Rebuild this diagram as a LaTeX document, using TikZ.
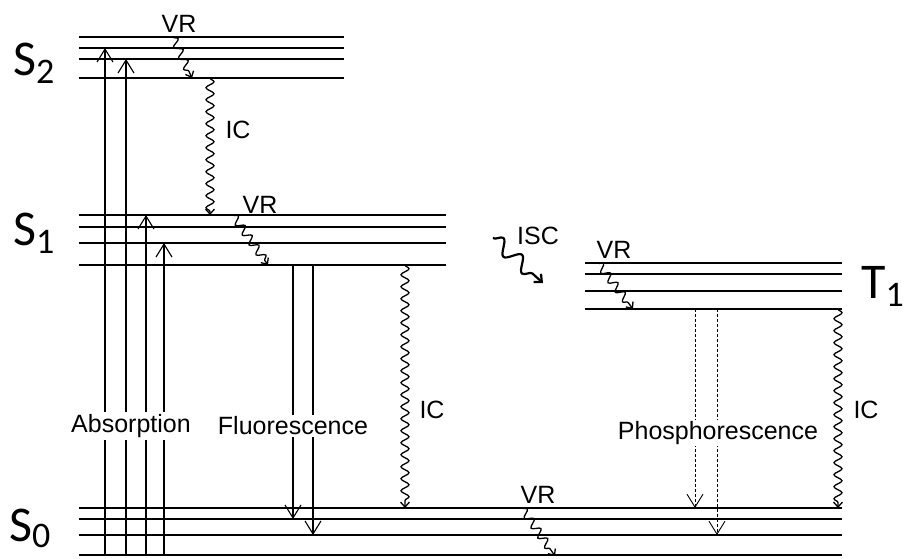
\documentclass[tikz,border=0pt]{standalone}
\usepackage{fontspec}
\setmainfont{Liberation Sans}
\newfontfamily\statefont{Carlito}
\usetikzlibrary{arrows.meta,decorations.pathmorphing,positioning}

\begin{document}
\begin{tikzpicture}[x=1pt,y=-1pt,
    levelline/.style={line width=1.4pt},
    radarrow/.style={line width=1.1pt,
      -{Straight Barb[length=13pt,width=16pt,line width=1.1pt]}},
    phosarrow/.style={line width=0.9pt,dash pattern=on 3pt off 2pt,
      -{Straight Barb[length=13pt,width=16pt,line width=0.9pt,sep=0pt]}},
    wavy/.style={line width=1.3pt,decorate,
      decoration={snake,amplitude=4pt,segment length=12pt,post length=3pt},
      -{Straight Barb[length=5pt,width=9pt]}},
    iscwave/.style={line width=2.2pt,decorate,
      decoration={snake,amplitude=7pt,segment length=25pt,post length=4pt},
      -{Straight Barb[length=6pt,width=11pt]}},
    lbl/.style={font=\fontsize{25}{30}\selectfont,inner sep=2pt},
    statelbl/.style={font=\statefont\fontsize{50}{56}\selectfont,
      inner sep=0pt,anchor=base west}]
  \useasboundingbox (0,0) rectangle (906,558);
  % Niveis de energia
  \foreach \y [count=\i] in {37,48,59,78}
    \draw[levelline] (79,\y) coordinate (s2-\i) -- (344,\y);
  \foreach \y [count=\i] in {215,227,243,265}
    \draw[levelline] (79,\y) coordinate (s1-\i) -- (446,\y);
  \foreach \y [count=\i] in {263,274,291,309}
    \draw[levelline] (585,\y) coordinate (t1-\i) -- (842,\y);
  \foreach \y [count=\i] in {508,519,535,555}
    \draw[levelline] (79,\y) coordinate (s0-\i) -- (842,\y);
  % Estados
  \node[statelbl] (S2) at (13,75) {S\raisebox{-8pt}{\fontsize{36}{40}\selectfont 2}};
  \node[statelbl] (S1) at (13,245) {S\raisebox{-8pt}{\fontsize{36}{40}\selectfont 1}};
  \node[statelbl] (S0) at (9,541) {S\raisebox{-6pt}{\fontsize{36}{40}\selectfont 0}};
  \node[statelbl] (T1) at (861,298) {T\raisebox{-8pt}{\fontsize{36}{40}\selectfont 1}};
  % Absorcao
  \coordinate (ab1) at (105,0);
  \coordinate (ab2) at (126,0);
  \coordinate (ab3) at (146,0);
  \coordinate (ab4) at (164,0);
  \draw[radarrow] (ab1 |- s0-4) -- (ab1 |- s2-2);
  \draw[radarrow] (ab2 |- s0-4) -- (ab2 |- s2-3);
  \draw[radarrow] (ab3 |- s0-4) -- (ab3 |- s1-1);
  \draw[radarrow] (ab4 |- s0-4) -- (ab4 |- s1-3);
  \node[lbl,fill=white] (abslbl) at (131,426) {Absorption};
  % Fluorescencia
  \coordinate (fl1) at (293,0);
  \coordinate (fl2) at (313,0);
  \draw[radarrow] (fl1 |- s1-4) -- (fl1 |- s0-2);
  \draw[radarrow] (fl2 |- s1-4) -- (fl2 |- s0-3);
  \node[lbl,fill=white] (fluolbl) at (293,426) {Fluorescence};
  % Fosforescencia
  \coordinate (ph1) at (695,0);
  \coordinate (ph2) at (717,0);
  \draw[phosarrow] (ph1 |- t1-4) -- (ph1 |- s0-1);
  \draw[phosarrow] (ph2 |- t1-4) -- (ph2 |- s0-3);
  \node[lbl,fill=white,inner sep=1pt] (phoslbl) at (718,433) {Phosphorescence};
  % Conversao interna
  \coordinate (ic1) at (210,0);
  \coordinate (ic2) at (405,0);
  \coordinate (ic3) at (838,0);
  \draw[wavy] (ic1 |- s2-4) -- (ic1 |- s1-1);
  \draw[wavy] (ic2 |- s1-4) -- (ic2 |- s0-1);
  \draw[wavy] (ic3 |- t1-4) -- (ic3 |- s0-1);
  \node[lbl] (ic1lbl) at (238,130) {IC};
  \node[lbl] (ic2lbl) at (432,410) {IC};
  \node[lbl] (ic3lbl) at (866,410) {IC};
  % Relaxacao vibracional
  \coordinate (vr2a) at (173,37);  \coordinate (vr2b) at (192,78);
  \coordinate (vr1a) at (233,215); \coordinate (vr1b) at (268,265);
  \coordinate (vrta) at (598,263); \coordinate (vrtb) at (633,309);
  \coordinate (vr0a) at (522,508); \coordinate (vr0b) at (555,556);
  \draw[wavy] (vr2a) -- (vr2b);
  \draw[wavy] (vr1a) -- (vr1b);
  \draw[wavy] (vrta) -- (vrtb);
  \draw[wavy] (vr0a) -- (vr0b);
  \node[lbl] (vr2lbl) at (179,24) {VR};
  \node[lbl] (vr1lbl) at (260,205) {VR};
  \node[lbl] (vrtlbl) at (614,250) {VR};
  \node[lbl] (vr0lbl) at (538,495) {VR};
  % Cruzamento intersistemas
  \coordinate (isca) at (493,238);
  \coordinate (iscb) at (543,283);
  \draw[iscwave] (isca) -- (iscb);
  \node[lbl] (isclbl) at (538,236) {ISC};
\end{tikzpicture}
\end{document}
